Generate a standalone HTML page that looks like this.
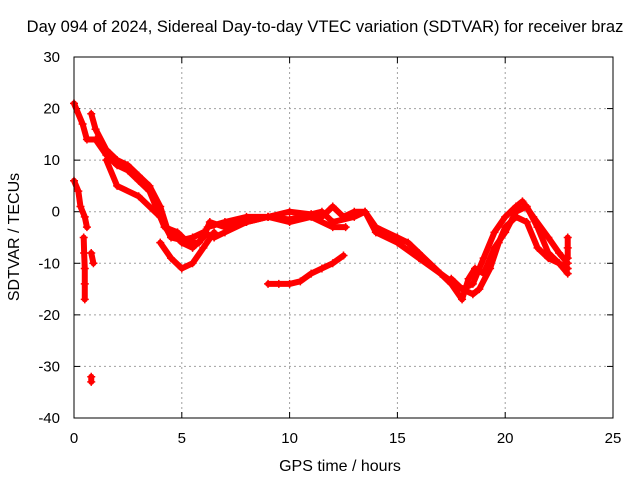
<!DOCTYPE html>
<html><head><meta charset="utf-8"><style>
body{margin:0;background:#fff}
svg{display:block;font-family:"Liberation Sans",sans-serif}
</style></head><body>
<svg id="chart" width="640" height="480" viewBox="0 0 640 480">
<rect width="640" height="480" fill="#fff"/>
<text x="325" y="32" font-size="16.5" text-anchor="middle">Day 094 of 2024, Sidereal Day-to-day VTEC variation (SDTVAR) for receiver braz</text>
<g id="grid"></g><g id="ticks"></g><g id="series"></g>
<rect x="74" y="57" width="539" height="361" fill="none" stroke="#000" stroke-width="1"/>
<text x="340" y="471" font-size="16" text-anchor="middle">GPS time / hours</text>
<text x="0" y="0" font-size="16" text-anchor="middle" transform="translate(19,237) rotate(-90)">SDTVAR / TECUs</text>
</svg>
<script>
const xTicks=[0,5,10,15,20,25];
const yTicks=[30,20,10,0,-10,-20,-30,-40];
const trace1=[[0,21],[0.4,17],[0.6,14],[1,14],[1.5,11],[2,9],[2.5,8],[3,6],[3.5,4],[3.8,1],[4.2,-3],[4.8,-4],[5.3,-6],[5.8,-6],[6.2,-3],[7,-2],[8,-1],[9,-1],[10,-1.5],[11,-0.5],[11.5,-1],[12,1],[12.5,-1],[13,0],[13.5,0],[14,-3],[15,-5],[15.5,-6],[16,-8],[17,-12],[18,-15],[18.5,-14],[19,-9],[19.5,-4],[20,-1],[20.5,1],[20.8,2],[21.3,-1],[22,-5],[22.5,-8],[22.9,-10]];
const trace2=[[0.8,19],[1,16],[1.5,12],[2,10],[2.5,9],[3,7],[3.5,5],[4,1],[4.3,-3],[5,-6],[5.5,-7],[6,-5],[6.3,-2],[7,-3],[8,-2],[9,-1],[10,-2],[11,-1],[12,-3],[12.6,-3]];
const trace3=[[1.5,10],[2,5],[3,3],[4,-1],[4.5,-5],[5,-5.5],[5.5,-5],[6,-4],[6.5,-5],[7,-4],[8,-2],[9,-1],[10,0],[11,-0.5],[11.5,0],[12,-2],[13,-1],[13.5,0],[14,-4],[15,-6],[16,-9],[17,-12],[17.5,-14],[18,-17],[18.3,-13],[18.6,-11],[19,-12],[19.5,-7],[20,-4],[20.5,0],[21,1],[21.5,-3],[22,-8],[22.5,-10],[22.9,-12]];
const trace4=[[4,-6],[4.5,-9],[5,-11],[5.5,-10],[6,-7],[6.5,-4]];
const trace5=[[9,-14],[9.5,-14],[10,-14],[10.5,-13.5],[11,-12],[11.5,-11],[12,-10],[12.5,-8.5]];
const trace6=[[17.5,-13],[18,-15],[18.5,-16],[18.8,-15],[19.3,-11],[19.7,-6],[20,-3],[20.5,-1],[21,-2],[21.5,-7],[22,-9],[22.5,-10],[22.9,-11]];
const trace7=[[0,6],[0.2,4],[0.3,1],[0.5,-1],[0.6,-3]];
const trace8=[[0.45,-5],[0.47,-8],[0.5,-11],[0.5,-14],[0.5,-17]];
const trace9=[[0.8,-8],[0.9,-10]];
const trace10=[[0.8,-32],[0.8,-33]];
const trace11=[[22.9,-5],[22.9,-7],[22.9,-9]];
const traces=[trace1,trace2,trace3,trace4,trace5,trace6,trace7,trace8,trace9,trace10,trace11];
const X=v=>74+v*(539/25);
const Y=v=>57+(30-v)*(361/70);
const ns="http://www.w3.org/2000/svg";
const g=document.getElementById('grid'),t=document.getElementById('ticks'),s=document.getElementById('series');
function mk(tag,a,p){const e=document.createElementNS(ns,tag);for(const k in a)e.setAttribute(k,a[k]);p.appendChild(e);return e;}
xTicks.forEach(v=>{
 if(v>0&&v<25){const l=mk('line',{x1:X(v),x2:X(v),y1:57,y2:418,stroke:'#a0a0a0','stroke-dasharray':'2,3'},g);
 
 }
 const tx=mk('text',{x:X(v),y:443,'font-size':15,'text-anchor':'middle'},t);tx.textContent=v;
 
 
 mk('line',{x1:X(v),x2:X(v),y1:418,y2:412,stroke:'#000'},t);mk('line',{x1:X(v),x2:X(v),y1:57,y2:63,stroke:'#000'},t);
});
yTicks.forEach(v=>{
 if(v<30&&v>-40){const l=mk('line',{x1:74,x2:613,y1:Y(v),y2:Y(v),stroke:'#a0a0a0','stroke-dasharray':'2,3'},g);
 
 }
 const tx=mk('text',{x:60,y:Y(v)+5,'font-size':15,'text-anchor':'end'},t);tx.textContent=v;
 
 
 mk('line',{x1:74,x2:80,y1:Y(v),y2:Y(v),stroke:'#000'},t);mk('line',{x1:613,x2:607,y1:Y(v),y2:Y(v),stroke:'#000'},t);
});
traces.forEach((tr,i)=>{
 const pl=mk('polyline',{points:tr.map(p=>X(p[0])+','+Y(p[1])).join(' '),fill:'none',stroke:'#f00','stroke-width':6,'stroke-linejoin':'round','stroke-linecap':'round'},s);
 
 
 tr.forEach(p=>{
  const m=mk('path',{d:`M${X(p[0])-4},${Y(p[1])}h8M${X(p[0])},${Y(p[1])-4}v8`,stroke:'#f00','stroke-width':1.5},s);
  
  
 });
});
</script>
</body></html>
